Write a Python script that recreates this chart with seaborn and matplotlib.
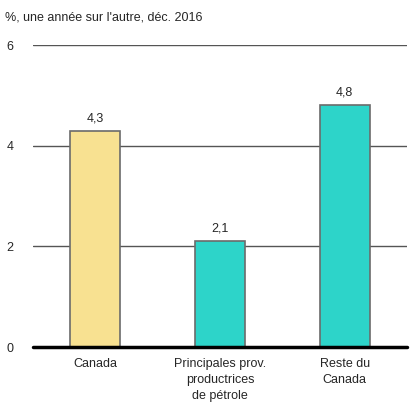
import numpy as np
import pandas as pd
import matplotlib
matplotlib.use('Agg')
import matplotlib.pyplot as plt
import seaborn as sns

categories = ["Canada", "Principales prov.\nproductrices\nde pétrole", "Reste du\nCanada"]
values = [4.3, 2.1, 4.8]
value_labels = ["4,3", "2,1", "4,8"]
colors = ["#F8E191", "#2DD4C9", "#2DD4C9"]
yticks = [0, 2, 4, 6]

sns.set_style("white")
plt.rcParams['font.family'] = ['Liberation Sans', 'DejaVu Sans']

df = pd.DataFrame({"cat": categories, "val": values})

fig = plt.figure(figsize=(4.18, 4.18), dpi=100)
ax = fig.add_axes([33/418, 71/418, 374/418, 302/418])

sns.barplot(data=df, x="cat", y="val", hue="cat", palette=colors, legend=False,
            saturation=1, width=0.4, edgecolor="#6b6b6b", linewidth=1.2, ax=ax, zorder=3)

for i, (v, lab) in enumerate(zip(values, value_labels)):
    ax.text(i, v + 0.13, lab, ha="center", va="bottom", fontsize=9)

ax.set_ylim(0, 6)
ax.set_xlim(-0.5, 2.5)
ax.set_yticks(yticks)
ax.set_yticklabels([str(t) for t in yticks], fontsize=9)
for t in yticks[1:]:
    ax.axhline(t, color="#555555", linewidth=1, zorder=1)
ax.axhline(0, color="black", linewidth=2.5, zorder=4, clip_on=False)
ax.tick_params(axis="y", length=0, pad=14)
ax.tick_params(axis="x", length=0, pad=8, labelsize=9)
for lbl in ax.get_xticklabels():
    lbl.set_linespacing(1.45)
ax.set_xlabel("")
ax.set_ylabel("")
for s in ax.spines.values():
    s.set_visible(False)

fig.text(5/418, 1 - 17/418, "%, une année sur l'autre, déc. 2016", fontsize=9, va="center", ha="left")

fig.savefig("out.png", dpi=100)
